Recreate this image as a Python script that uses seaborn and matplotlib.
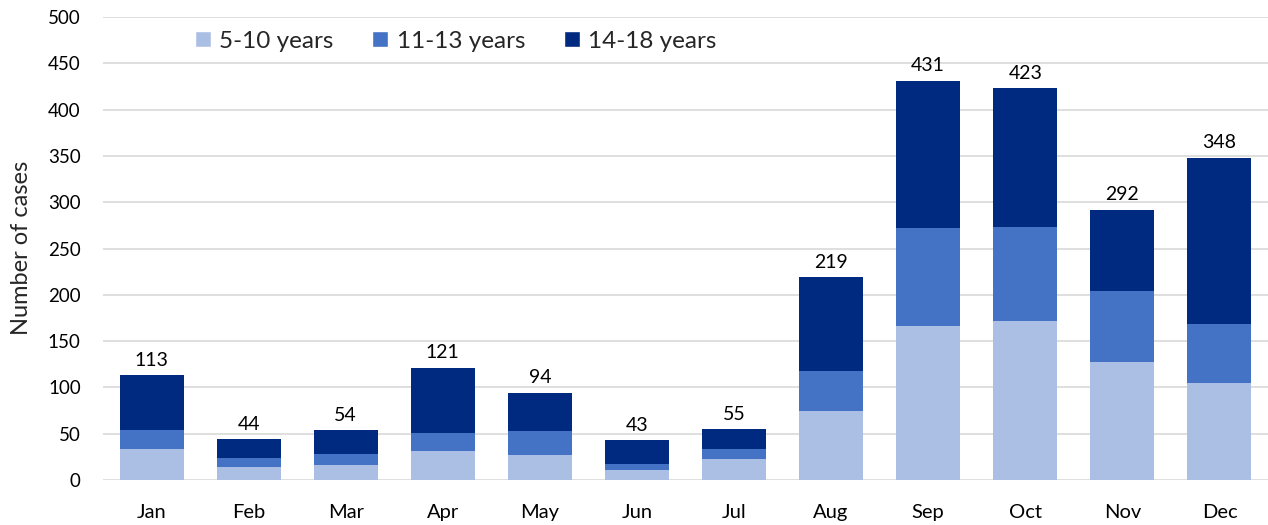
import numpy as np
import pandas as pd
import matplotlib
matplotlib.use("Agg")
import matplotlib.pyplot as plt
import seaborn as sns
from matplotlib.patches import Patch

# data
months = ["Jan", "Feb", "Mar", "Apr", "May", "Jun",
          "Jul", "Aug", "Sep", "Oct", "Nov", "Dec"]
age_5_10 = [33, 14, 16, 31, 27, 11, 23, 75, 166, 172, 127, 105]
age_11_13 = [21, 10, 12, 20, 26, 6, 10, 43, 106, 101, 77, 64]
totals = [113, 44, 54, 121, 94, 43, 55, 219, 431, 423, 292, 348]
age_14_18 = [t - a - b for t, a, b in zip(totals, age_5_10, age_11_13)]

labels = ["5-10 years", "11-13 years", "14-18 years"]
colors = ["#ABBFE4", "#4472C4", "#002A80"]

df = pd.DataFrame({"month": months, "a": age_5_10, "b": age_11_13, "c": age_14_18})
df["ab"] = df["a"] + df["b"]
df["abc"] = df["ab"] + df["c"]

sns.set_style("white")
plt.rcParams["font.family"] = ["Lato", "DejaVu Sans"]

fig = plt.figure(figsize=(12.68, 5.25), dpi=100)
ax = fig.add_axes([103 / 1268, 45 / 525, 1165 / 1268, 463 / 525])

# stacked bars drawn back to front
for col, c in zip(["abc", "ab", "a"], colors[::-1]):
    sns.barplot(data=df, x="month", y=col, color=c, width=0.66,
                saturation=1, linewidth=0, ax=ax)

for i, t in enumerate(df["abc"]):
    ax.text(i, t + 7, str(t), ha="center", va="bottom", fontsize=14, color="#000000")

ax.set_ylim(0, 500)
ax.set_xlim(-0.5, 11.5)
ax.set_yticks(range(0, 501, 50))
ax.yaxis.grid(True, color="#D9D9D9", linewidth=1.2)
ax.set_axisbelow(True)
for s in ax.spines.values():
    s.set_visible(False)
ax.tick_params(axis="both", length=0, colors="#000000")
ax.tick_params(axis="x", pad=17, labelsize=14.5)
ax.tick_params(axis="y", pad=16, labelsize=13.5)
ax.set_xlabel("")
ax.set_ylabel("")
fig.text(22 / 1268, 1 - 248 / 525, "Number of cases", rotation=90,
         ha="center", va="center", fontsize=17)

handles = [Patch(facecolor=c, label=l) for c, l in zip(colors, labels)]
ax.legend(handles=handles, ncol=3, frameon=False, loc="upper left",
          bbox_to_anchor=(0.06, 1.018), fontsize=17.5, handlelength=0.65,
          handleheight=0.65, handletextpad=0.35, columnspacing=1.6)

fig.savefig("out.png", dpi=100)
